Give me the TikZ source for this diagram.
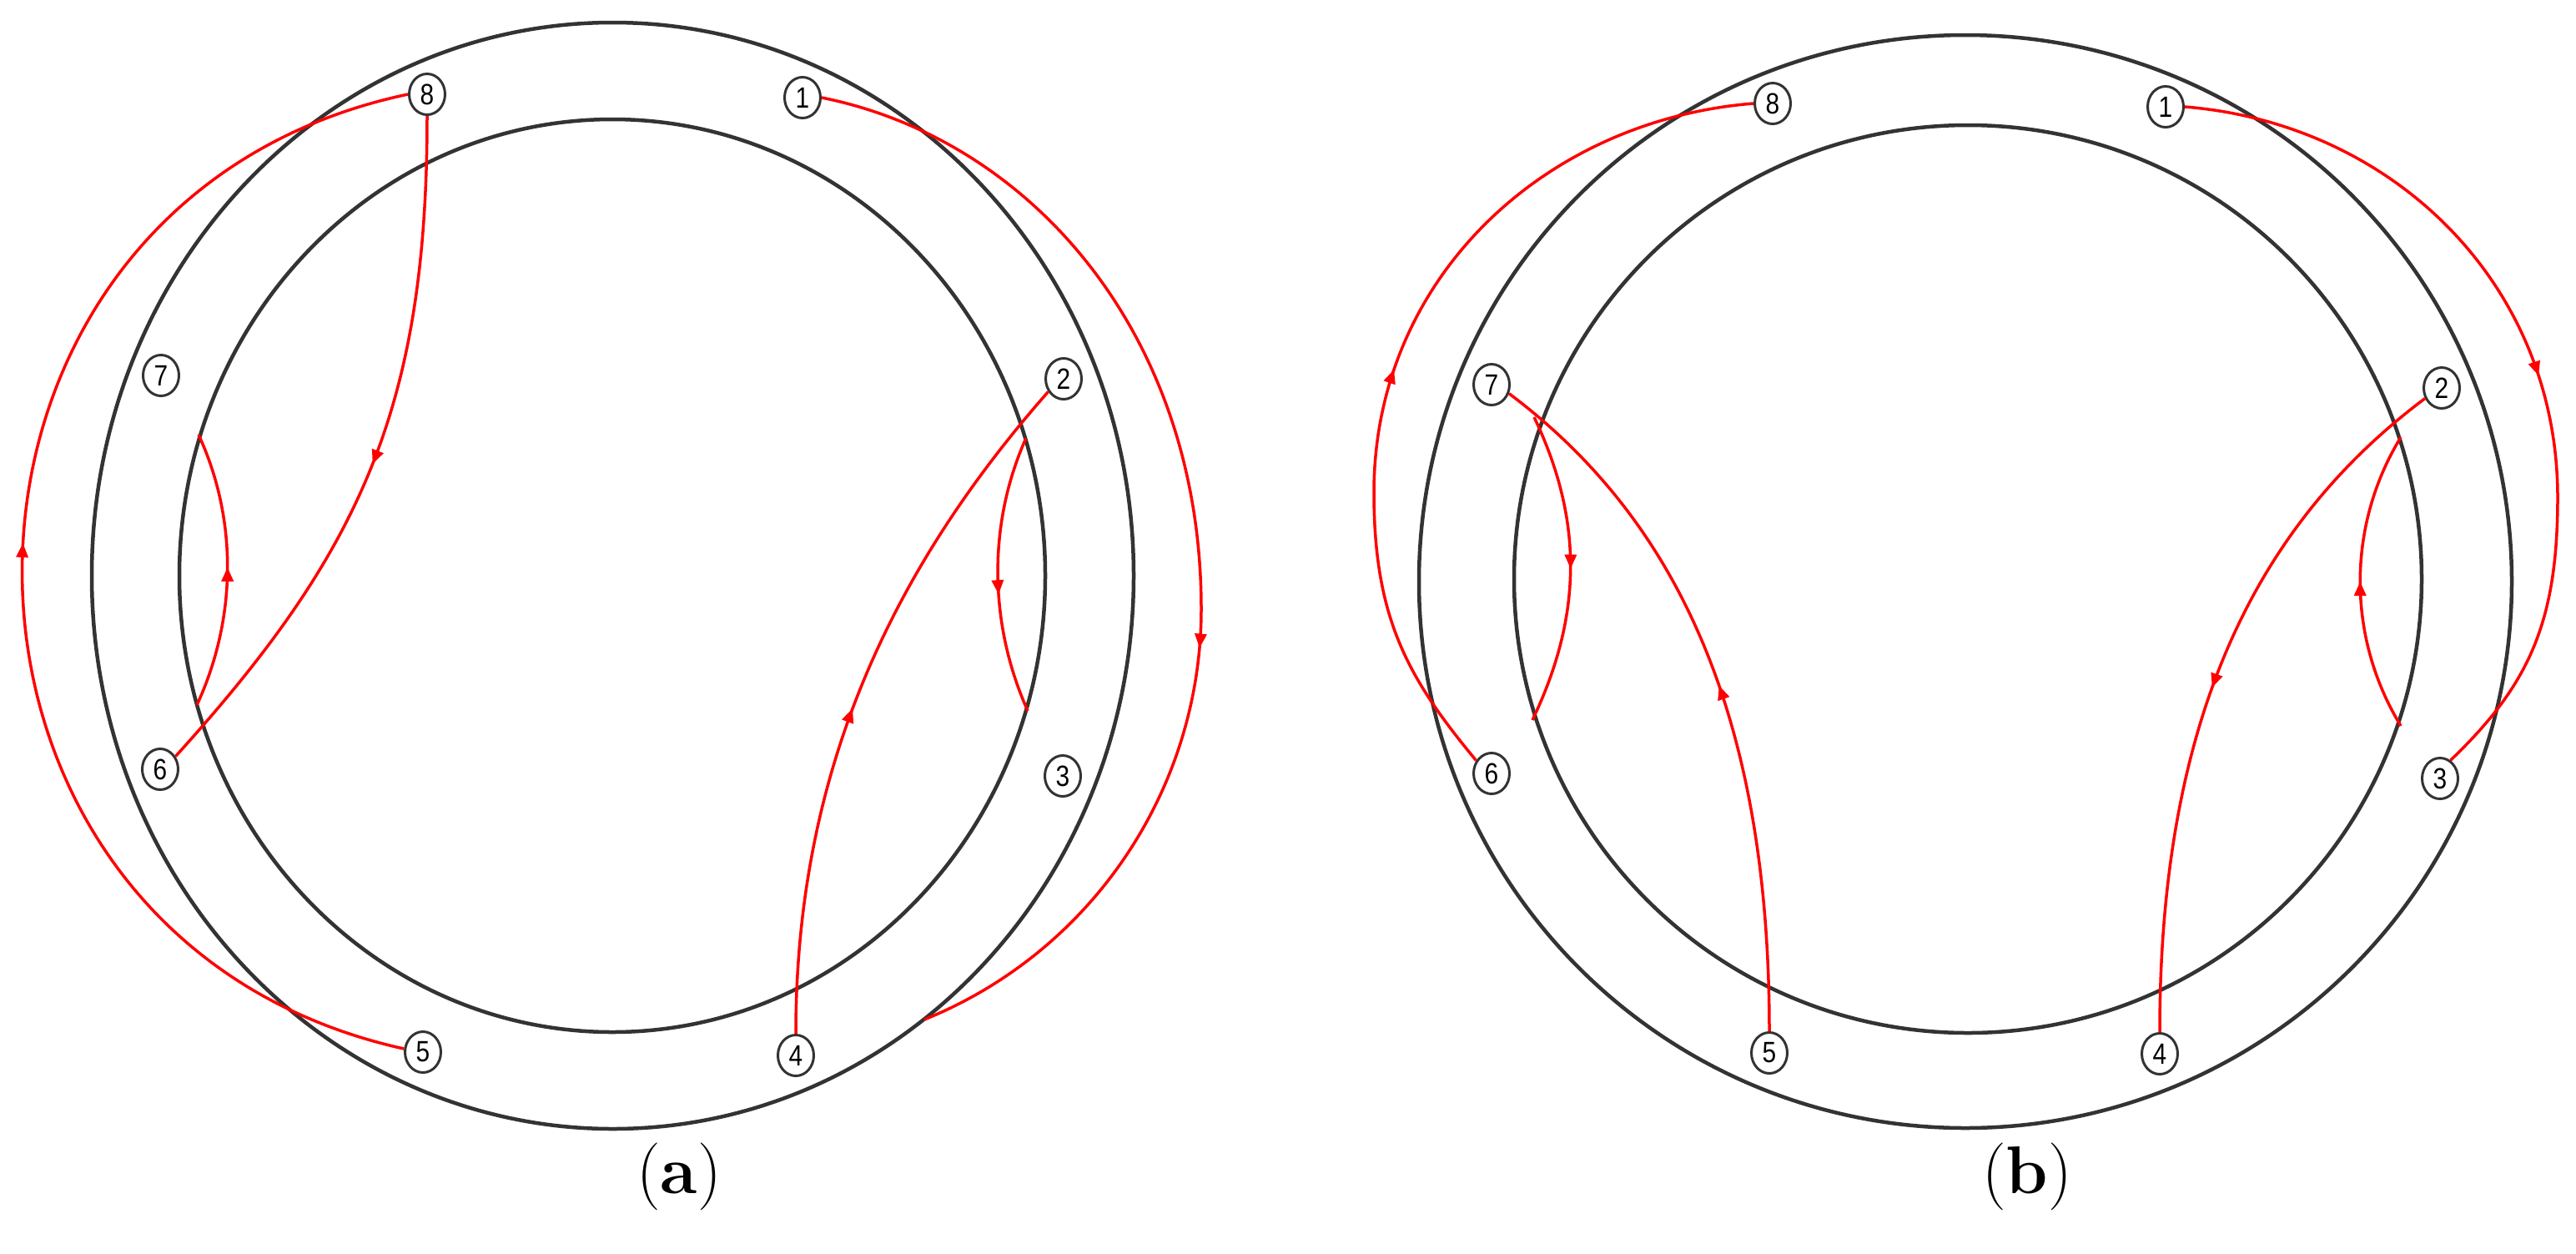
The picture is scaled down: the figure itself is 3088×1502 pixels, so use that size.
\documentclass[tikz,border=0pt]{standalone}
\usepackage{fontspec}
\usepackage{graphicx}
\newfontfamily\digitfont{Liberation Sans}
\usetikzlibrary{shapes.geometric,arrows.meta,decorations.markings}
\tikzset{
  ring/.style={draw=black!80, line width=0.45mm},
  num/.style={ellipse, draw=black!80, fill=white, line width=0.3mm, minimum width=4.3mm, minimum height=4.9mm, inner sep=0pt, font=\fontsize{10}{10}\selectfont\digitfont},
  wire/.style={red, line width=0.35mm},
  midarrow/.style={postaction={decorate}, decoration={markings, mark=at position #1 with {\arrow{Triangle[length=1.7mm,width=1.4mm]}}}},
  midarrow/.default=0.5,
  caption/.style={font=\fontsize{23}{27}\selectfont}
}
\newcommand{\dg}[1]{\scalebox{0.85}[1]{#1}}
\begin{document}
\begin{tikzpicture}[x=0.1mm, y=-0.1mm]
\useasboundingbox (0,0) rectangle (3088,1502);
% ---------------- panel (a) ----------------
\draw[ring] (734.5,690) ellipse [x radius=624.5, y radius=663];
\draw[ring] (734,690) ellipse [x radius=519, y radius=547];
\node[num] (a1) at (962,117) {\dg{1}};
\node[num] (a2) at (1275,454) {\dg{2}};
\node[num] (a3) at (1274,930) {\dg{3}};
\node[num] (a4) at (954,1265) {\dg{4}};
\node[num] (a5) at (507,1261) {\dg{5}};
\node[num] (a6) at (192,922) {\dg{6}};
\node[num] (a7) at (193,450) {\dg{7}};
\node[num] (a8) at (512,113) {\dg{8}};
\coordinate (aR) at (1440,730);
\coordinate (aE) at (1108,1222);
\coordinate (aIa) at (1230,525);
\coordinate (aIb) at (1232,852);
\coordinate (aJa) at (236,845);
\coordinate (aJb) at (238,521);
\draw[wire, midarrow=0.52] (a5.170) .. controls +(-612.8,-135.3) and +(-614,129.4) .. (a8.west);
\draw[wire, midarrow=0.6] (a1.east) .. controls +(250,50) and +(0,-330) .. (aR) .. controls +(0,216) and +(200.5,-81) .. (aE);
\draw[wire, midarrow=0.47] (a4.north) .. controls +(0,-300) and +(-198,225) .. (a2.220);
\draw[wire, midarrow=0.57] (aIa) .. controls +(-46.5,103.5) and +(-46.5,-103.5) .. (aIb);
\draw[wire, midarrow=0.51] (aJa) .. controls +(47.6,-102.6) and +(47.6,102.6) .. (aJb);
\draw[wire, midarrow=0.5] (a8.south) .. controls +(0,350) and +(221,-244) .. (a6.40);
\node[caption] (capa) at (814,1410) {(\textbf{a})};
% ---------------- panel (b) ----------------
\draw[ring] (2356,697) circle [radius=655];
\draw[ring] (2359,694) circle [radius=544];
\node[num] (b1) at (2596,128) {\dg{1}};
\node[num] (b2) at (2927,465) {\dg{2}};
\node[num] (b3) at (2925,933) {\dg{3}};
\node[num] (b4) at (2589,1263) {\dg{4}};
\node[num] (b5) at (2121,1262) {\dg{5}};
\node[num] (b6) at (1788,927) {\dg{6}};
\node[num] (b7) at (1788,461) {\dg{7}};
\node[num] (b8) at (2125,124) {\dg{8}};
\coordinate (bL) at (1647,590);
\coordinate (bR) at (3066,596);
\coordinate (bIa) at (1839,500);
\coordinate (bIb) at (1837,863);
\coordinate (bJa) at (2878,870);
\coordinate (bJb) at (2878,524);
\draw[wire, midarrow=0.47] (b6.140) .. controls +(-83,-100) and +(0,150) .. (bL) .. controls +(0,-255) and +(-252,20) .. (b8.west);
\draw[wire, midarrow=0.53] (b1.east) .. controls +(250,20) and +(0,-255) .. (bR) .. controls +(0,150) and +(94,-90) .. (b3.60);
\draw[wire, midarrow=0.49] (b5.north) .. controls +(0,-380) and +(200,150) .. (b7.333);
\draw[wire, midarrow=0.51] (b2.212) .. controls +(-200,150) and +(0,-380) .. (b4.north);
\draw[wire, midarrow=0.5] (bIa) .. controls +(59.6,124.5) and +(59.6,-124.5) .. (bIb);
\draw[wire, midarrow=0.5] (bJa) .. controls +(-65,-106) and +(-65,106) .. (bJb);
\node[caption] (capb) at (2430,1410) {(\textbf{b})};
\end{tikzpicture}
\end{document}
